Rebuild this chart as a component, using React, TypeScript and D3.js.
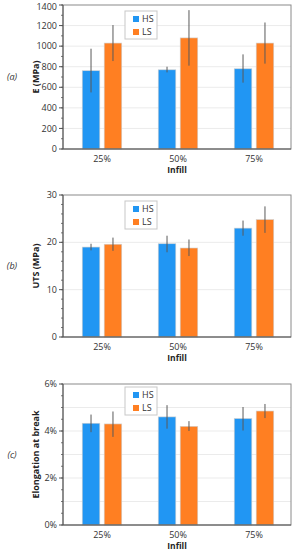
import React from "react";
import * as d3 from "d3";

const categories = ["25%", "50%", "75%"];
const series = ["HS", "LS"];
const colors = ["#2196F3", "#FF7F22"];

const eMean = [[761, 770, 780], [1030, 1080, 1030]];
const eHigh = [[975, 800, 920], [1205, 1350, 1230]];
const eLow = [[550, 745, 645], [855, 810, 830]];

const utsMean = [[19.0, 19.7, 23.0], [19.6, 18.8, 24.8]];
const utsHigh = [[19.7, 21.4, 24.6], [21.0, 20.6, 27.6]];
const utsLow = [[18.3, 17.9, 21.4], [18.2, 17.1, 22.0]];

const elMean = [[0.0433, 0.046, 0.0453], [0.043, 0.042, 0.0485]];
const elHigh = [[0.047, 0.051, 0.0502], [0.0483, 0.0442, 0.0515]];
const elLow = [[0.0395, 0.041, 0.0402], [0.0375, 0.040, 0.0455]];

const eTicks = [0, 200, 400, 600, 800, 1000, 1200, 1400];
const utsTicks = [0, 10, 20, 30];
const elTicks = [0, 0.02, 0.04, 0.06];

const FONT = "'Open Sans', 'Liberation Sans', sans-serif";

type PanelProps = {
  top: number;
  bottom: number;
  mean: number[][];
  high: number[][];
  low: number[][];
  max: number;
  ticks: number[];
  minorStep: number;
  gridStep: number;
  fmt: (v: number) => string;
  yTitle: string;
  label: string;
  legendTop: number;
};

function Panel(p: PanelProps) {
  const left = 63;
  const right = 291;
  const y = d3.scaleLinear().domain([0, p.max]).range([p.bottom, p.top]);
  const x0 = d3
    .scaleBand<string>()
    .domain(categories)
    .range([64, 292])
    .paddingInner(0.48)
    .paddingOuter(0.24);
  const x1 = d3
    .scaleBand<string>()
    .domain(series)
    .range([0, x0.bandwidth()])
    .paddingInner(0.2);
  const minor = d3.range(0, p.max + 1e-9, p.minorStep);
  const grid = d3.range(p.gridStep, p.max - 1e-9, p.gridStep);
  const midY = (p.top + p.bottom) / 2;
  return (
    <g>
      {grid.map((g, i) => (
        <line key={"g" + i} x1={left} x2={right} y1={y(g)} y2={y(g)} stroke="#ebebeb" strokeWidth={1} />
      ))}
      {series.map((s, si) =>
        categories.map((c, ci) => {
          const bx = (x0(c) as number) + (x1(s) as number);
          const bw = x1.bandwidth();
          const cx = bx + bw / 2;
          return (
            <g key={s + c}>
              <rect
                x={bx}
                y={y(p.mean[si][ci])}
                width={bw}
                height={p.bottom - y(p.mean[si][ci])}
                fill={colors[si]}
                stroke="#d0d0d0"
                strokeWidth={0.6}
              />
              <line x1={cx} x2={cx} y1={y(p.high[si][ci])} y2={y(p.low[si][ci])} stroke="#5a5a5a" strokeWidth={1} />
            </g>
          );
        })
      )}
      <rect x={left} y={p.top} width={right - left} height={p.bottom - p.top} fill="none" stroke="#8a8a8a" strokeWidth={1} />
      <line x1={left} x2={left} y1={p.top} y2={p.bottom} stroke="#555" strokeWidth={1} />
      <line x1={left} x2={right} y1={p.bottom} y2={p.bottom} stroke="#555" strokeWidth={1} />
      {minor.map((m, i) => (
        <line key={"m" + i} x1={left - 2} x2={left} y1={y(m)} y2={y(m)} stroke="#555" strokeWidth={0.8} />
      ))}
      {p.ticks.map((t, i) => (
        <g key={"t" + i}>
          <line x1={left - 4} x2={left} y1={y(t)} y2={y(t)} stroke="#555" strokeWidth={1} />
          <text x={left - 6} y={Math.max(y(t), 7)} dy="0.35em" textAnchor="end" fontSize={9} fill="#333" fontFamily={FONT}>
            {p.fmt(t)}
          </text>
        </g>
      ))}
      {categories.map((c) => (
        <text
          key={"x" + c}
          x={(x0(c) as number) + x0.bandwidth() / 2}
          y={p.bottom + 12.5}
          textAnchor="middle"
          fontSize={9}
          fill="#333"
          fontFamily={FONT}
        >
          {c}
        </text>
      ))}
      <text x={177} y={p.bottom + 23.5} textAnchor="middle" fontSize={8.5} fontWeight="bold" fill="#222" fontFamily={FONT}>
        Infill
      </text>
      <text
        transform={`translate(${36},${midY}) rotate(-90)`}
        textAnchor="middle"
        dy="0.35em"
        fontSize={9}
        fontWeight="bold"
        fill="#222"
        fontFamily={FONT}
      >
        {p.yTitle}
      </text>
      <text x={12} y={midY} dy="0.35em" textAnchor="middle" fontSize={9} fontStyle="italic" fill="#333" fontFamily={FONT}>
        {p.label}
      </text>
      <g transform={`translate(125,${p.legendTop})`}>
        <rect x={0} y={0} width={32} height={28} fill="#fff" stroke="#c8c8c8" strokeWidth={1} />
        {series.map((s, i) => (
          <g key={"l" + s} transform={`translate(0,${8 + i * 13})`}>
            <rect x={8} y={-3} width={6} height={6} fill={colors[i]} />
            <text x={17} y={0} dy="0.35em" fontSize={9} fill="#333" fontFamily={FONT}>
              {s}
            </text>
          </g>
        ))}
      </g>
    </g>
  );
}

export default function App() {
  return (
    <svg
      width={293}
      height={550}
      style={{ position: "absolute", left: 0, top: 0, background: "#fff" }}
    >
      <Panel
        top={5}
        bottom={149}
        mean={eMean}
        high={eHigh}
        low={eLow}
        max={1400}
        ticks={eTicks}
        minorStep={100}
        gridStep={200}
        fmt={(v) => String(v)}
        yTitle="E (MPa)"
        label="(a)"
        legendTop={11}
      />
      <Panel
        top={195}
        bottom={337}
        mean={utsMean}
        high={utsHigh}
        low={utsLow}
        max={30}
        ticks={utsTicks}
        minorStep={2}
        gridStep={10}
        fmt={(v) => String(v)}
        yTitle="UTS (MPa)"
        label="(b)"
        legendTop={201}
      />
      <Panel
        top={384}
        bottom={525}
        mean={elMean}
        high={elHigh}
        low={elLow}
        max={0.06}
        ticks={elTicks}
        minorStep={0.005}
        gridStep={0.01}
        fmt={(v) => d3.format(".0%")(v)}
        yTitle="Elongation at break"
        label="(c)"
        legendTop={387}
      />
    </svg>
  );
}
